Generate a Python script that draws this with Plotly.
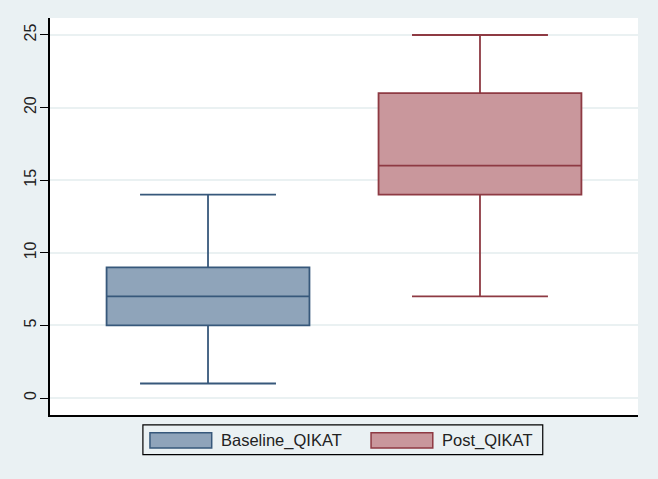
import plotly.graph_objects as go

# box summary values
groups = ['Baseline_QIKAT', 'Post_QIKAT']
mins = [1, 7]
q1s = [5, 14]
medians = [7, 16]
q3s = [9, 21]
maxs = [14, 25]

fills = ['#8fa4ba', '#c9979c']
lines = ['#37587b', '#8e3a43']

bg = '#eaf1f3'

fig = go.Figure()
for i, g in enumerate(groups):
    fig.add_trace(go.Box(
        x=[i],
        q1=[q1s[i]], median=[medians[i]], q3=[q3s[i]],
        lowerfence=[mins[i]], upperfence=[maxs[i]],
        name=g,
        width=0.746,
        whiskerwidth=0.67,
        fillcolor=fills[i],
        line=dict(color=lines[i], width=1.8),
        showlegend=False,
        hoverinfo='skip'
    ))

# stata-style legend drawn as a frame with wide patches
shapes = [dict(type='rect', xref='paper', yref='paper',
               x0=0.158, x1=0.838, y0=-0.1, y1=-0.025,
               line=dict(color='black', width=1.2), fillcolor=bg)]
annots = []
patch_x = [0.17, 0.546]
for i, g in enumerate(groups):
    shapes.append(dict(type='rect', xref='paper', yref='paper',
                       x0=patch_x[i], x1=patch_x[i] + 0.105,
                       y0=-0.083, y1=-0.045,
                       line=dict(color=lines[i], width=1.5), fillcolor=fills[i]))
    annots.append(dict(xref='paper', yref='paper', x=patch_x[i] + 0.118, y=-0.064,
                       text=g, showarrow=False, xanchor='left', yanchor='middle',
                       font=dict(family='Arial, Liberation Sans', size=16.5, color='#222')))

fig.update_layout(
    width=658, height=479,
    paper_bgcolor=bg,
    plot_bgcolor='white',
    margin=dict(l=50, r=20, t=18, b=64),
    font=dict(family='Arial, Liberation Sans', color='#222'),
    shapes=shapes,
    annotations=annots,
    xaxis=dict(range=[-0.581, 1.581], showticklabels=False, ticks='', showgrid=False,
               zeroline=False, showline=True, linecolor='black', linewidth=1.5),
    yaxis=dict(range=[-1.17, 26.17], tickvals=[0, 5, 10, 15, 20, 25], tickangle=-90,
               ticks='outside', ticklen=8, tickcolor='black', tickfont=dict(size=16),
               ticklabelstandoff=-2,
               showgrid=True, gridcolor='#eaf1f2', gridwidth=1.5, zeroline=False,
               showline=True, linecolor='black', linewidth=1.5),
)

fig.write_html("out.html", config={'displayModeBar': False},
               post_script="document.body.style.margin='0';")
